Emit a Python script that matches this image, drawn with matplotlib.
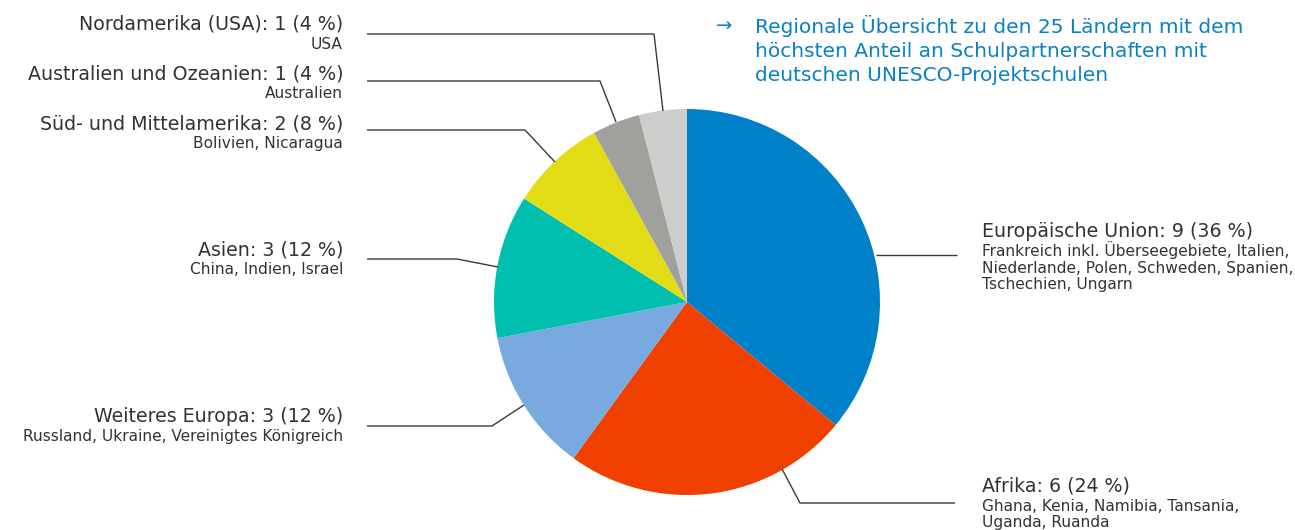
import matplotlib.pyplot as plt

plt.rcParams['font.family'] = ['DejaVu Sans']

# regions, counts and country lists (clockwise from the top)
regions = ['Europäische Union', 'Afrika', 'Weiteres Europa', 'Asien',
           'Süd- und Mittelamerika', 'Australien und Ozeanien', 'Nordamerika (USA)']
counts = [9, 6, 3, 3, 2, 1, 1]
shares = [36, 24, 12, 12, 8, 4, 4]
countries = [
    ['Frankreich inkl. Überseegebiete, Italien,',
     'Niederlande, Polen, Schweden, Spanien,',
     'Tschechien, Ungarn'],
    ['Ghana, Kenia, Namibia, Tansania,', 'Uganda, Ruanda'],
    ['Russland, Ukraine, Vereinigtes Königreich'],
    ['China, Indien, Israel'],
    ['Bolivien, Nicaragua'],
    ['Australien'],
    ['USA'],
]
colors = ['#0080C8', '#F04000', '#78AADF', '#00BFAF', '#E2DC17', '#A0A09C', '#CDCDCB']
title_lines = ['Regionale Übersicht zu den 25 Ländern mit dem',
               'höchsten Anteil an Schulpartnerschaften mit',
               'deutschen UNESCO-Projektschulen']

W, H = 1295, 530
fig = plt.figure(figsize=(W / 100, H / 100), dpi=100)
ax = fig.add_axes([0, 0, 1, 1])

cx, cy, r = 687, H - 302, 193
ax.pie(counts, colors=colors, startangle=90, counterclock=False,
       center=(cx, cy), radius=r, frame=True,
       wedgeprops=dict(linewidth=0))
ax.set_xlim(0, W)
ax.set_ylim(0, H)
ax.set_aspect('equal')
ax.axis('off')

# leader lines (x, y from top)
leaders = [
    [(876, 255), (957, 255)],
    [(782, 469), (800, 503), (955, 503)],
    [(524, 405), (492, 426), (367, 426)],
    [(498, 267), (457, 259), (367, 259)],
    [(555, 162), (525, 130), (367, 130)],
    [(616, 122), (600, 81), (367, 81)],
    [(663, 111), (654, 34), (367, 34)],
]
# label x, baseline of the headline, alignment
anchors = [
    (982, 237, 'left'), (982, 492, 'left'), (343, 422, 'right'),
    (343, 255, 'right'), (343, 129, 'right'), (343, 79, 'right'),
    (343, 30, 'right'),
]

txt = '#333333'
for i, name in enumerate(regions):
    pts = leaders[i]
    ax.plot([p[0] for p in pts], [H - p[1] for p in pts],
            color='#3a3a3a', lw=1.0, solid_capstyle='butt')
    x, y, ha = anchors[i]
    ax.text(x, H - y, f'{name}: {counts[i]} ({shares[i]} %)', ha=ha, va='baseline',
            fontsize=13.7, color=txt)
    for j, line in enumerate(countries[i]):
        ax.text(x, H - (y + 19 + 16.5 * j), line, ha=ha, va='baseline',
                fontsize=11.1, color=txt)

# heading
title_col = '#0A80C6'
ax.text(716, H - 32, '→', ha='left', va='baseline', fontsize=14, color=title_col)
for j, line in enumerate(title_lines):
    ax.text(755, H - (33 + 24 * j), line, ha='left', va='baseline',
            fontsize=14.5, color=title_col)

fig.savefig('out.png', dpi=100)
